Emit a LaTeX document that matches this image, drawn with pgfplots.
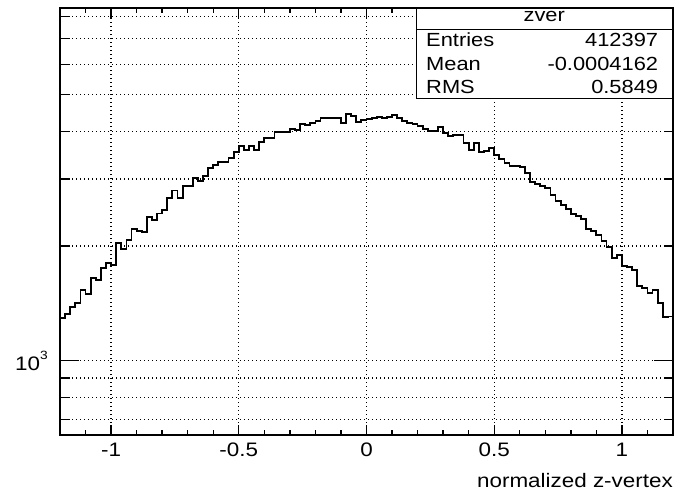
\documentclass[border=0pt]{standalone}
\usepackage{fontspec}
\setmainfont[FakeStretch=1.15]{Liberation Sans}
\usepackage{pgfplots}
\usepackage{pgfplotstable}
\pgfplotsset{compat=1.18}

\pgfplotstableread{
x y
-1.20 1292
-1.18 1326
-1.16 1386
-1.14 1420
-1.12 1533
-1.10 1494
-1.08 1646
-1.06 1629
-1.04 1748
-1.02 1808
-1.00 1783
-0.98 2040
-0.96 1960
-0.94 2074
-0.92 2213
-0.90 2194
-0.88 2177
-0.86 2388
-0.84 2340
-0.82 2434
-0.80 2481
-0.78 2669
-0.76 2795
-0.74 2669
-0.72 2874
-0.70 2874
-0.68 3011
-0.66 2968
-0.64 3053
-0.62 3199
-0.60 3263
-0.58 3329
-0.56 3329
-0.54 3398
-0.52 3537
-0.50 3661
-0.48 3573
-0.46 3661
-0.44 3573
-0.42 3757
-0.40 3835
-0.38 3835
-0.36 3977
-0.34 3977
-0.32 3991
-0.30 4049
-0.28 4032
-0.26 4181
-0.24 4155
-0.22 4214
-0.20 4265
-0.18 4327
-0.16 4327
-0.14 4327
-0.12 4327
-0.10 4214
-0.08 4441
-0.06 4395
-0.04 4240
-0.02 4284
0.00 4302
0.02 4327
0.04 4353
0.06 4327
0.08 4369
0.10 4414
0.12 4327
0.14 4265
0.16 4214
0.18 4181
0.20 4130
0.22 4049
0.24 4015
0.26 4015
0.28 4113
0.30 3967
0.32 3889
0.34 3912
0.36 3912
0.38 3721
0.40 3573
0.42 3734
0.44 3537
0.46 3558
0.48 3610
0.50 3467
0.52 3378
0.54 3297
0.56 3243
0.58 3243
0.60 3230
0.62 3114
0.64 2950
0.66 2909
0.68 2874
0.70 2834
0.72 2722
0.74 2630
0.76 2563
0.78 2497
0.80 2427
0.82 2398
0.84 2350
0.86 2217
0.88 2186
0.90 2138
0.92 2065
0.94 1984
0.96 1864
0.98 1891
1.00 1772
1.02 1765
1.04 1730
1.06 1571
1.08 1549
1.10 1503
1.12 1533
1.14 1415
1.16 1300
1.18 1305
1.20 1305
}\histtable

\pgfplotsset{
  rootframe/.style={
    at={(60bp,59bp)}, anchor=south west,
    width=613bp, height=427bp, scale only axis,
    xmin=-1.2, xmax=1.2,
    ymin=638, ymax=8430,
    tick align=inside,
    axis line style={line width=1.5bp, black},
    every tick/.style={line width=1.4bp, black},
    major grid style={dash pattern=on 1.2bp off 2.8bp, line width=1.3bp, black},
    minor grid style={dash pattern=on 1.2bp off 2.8bp, line width=1.3bp, black},
    tick label style={font=\fontsize{19.5bp}{23bp}\selectfont},
  }
}
\newcommand{\statfont}{\fontsize{19bp}{22bp}\selectfont}

\begin{document}
\begin{tikzpicture}
\path (0,0) rectangle (688bp,494bp);
% y ticks and y grid
\begin{axis}[ymode=log, rootframe,
  hide x axis,
  ytick={1000},
  yticklabels={10\raisebox{1.05ex}{\fontsize{12bp}{12bp}\selectfont 3}},
  minor ytick={700,800,900,2000,3000,4000,5000,6000,7000,8000},
  ymajorgrids, yminorgrids,
  ytick pos=both,
  major tick length=19bp, minor tick length=9.5bp,
  yticklabel style={anchor=east, inner sep=0pt, xshift=-12bp},
]
\end{axis}
% x ticks, x grid, histogram, stats box
\begin{axis}[ymode=log, rootframe,
  xtick={-1,-0.5,0,0.5,1},
  xticklabels={-1,-0.5,0,0.5,1},
  minor xtick={-1.1,-0.9,-0.8,-0.7,-0.6,-0.4,-0.3,-0.2,-0.1,0.1,0.2,0.3,0.4,0.6,0.7,0.8,0.9,1.1},
  ytick=\empty,
  xmajorgrids,
  xtick pos=both,
  major tick length=10bp, minor tick length=5bp,
  xticklabel style={anchor=base, inner sep=0pt, yshift=-21.7bp},
  xlabel={normalized z-vertex},
  xlabel style={at={(rel axis cs:1,0)}, anchor=base east, inner sep=0pt, yshift=-53bp,
    font=\fontsize{19.5bp}{23bp}\selectfont},
]
\addplot[const plot, line width=1.8bp, black] table[x=x, y=y] {\histtable};
\fill[white] (rel axis cs:0.5819,0.7885) rectangle (rel axis cs:1,1);
\draw[line width=1.5bp] (rel axis cs:0.5819,0.7885) rectangle (rel axis cs:1,1);
\draw[line width=1.5bp] (rel axis cs:0.5819,0.9501) -- (rel axis cs:1,0.9501);
\node[anchor=base, inner sep=0pt, font=\statfont] at (rel axis cs:0.7899,0.9684) {zver};
\node[anchor=base west, inner sep=0pt, font=\statfont] at (rel axis cs:0.5971,0.9094) {Entries};
\node[anchor=base east, inner sep=0pt, font=\statfont] at (rel axis cs:0.9760,0.9094) {412397};
\node[anchor=base west, inner sep=0pt, font=\statfont] at (rel axis cs:0.5971,0.8532) {Mean};
\node[anchor=base east, inner sep=0pt, font=\statfont] at (rel axis cs:0.9760,0.8532) {-0.0004162};
\node[anchor=base west, inner sep=0pt, font=\statfont] at (rel axis cs:0.5971,0.8002) {RMS};
\node[anchor=base east, inner sep=0pt, font=\statfont] at (rel axis cs:0.9760,0.8002) {0.5849};
\end{axis}
\end{tikzpicture}
\end{document}
